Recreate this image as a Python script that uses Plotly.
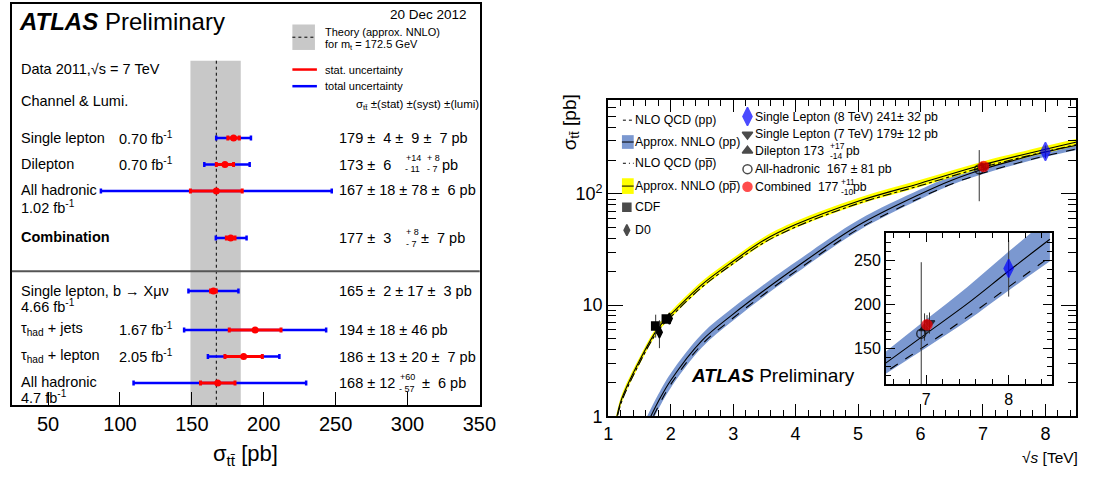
import math
import plotly.graph_objects as go

W, H = 1095, 486
FONT = "Liberation Sans, Arial, Helvetica, sans-serif"

# ---------------- Left panel data (pb) ----------------
CHANNELS = ["Single lepton", "Dilepton", "All hadronic", "<b>Combination</b>",
            "Single lepton, b \u2192 X\u03bc\u03bd", "\u03c4<sub>had</sub> + jets",
            "\u03c4<sub>had</sub> + lepton", "All hadronic"]
LUMI_LABELS = ["0.70 fb<sup>-1</sup>", "0.70 fb<sup>-1</sup>", "1.02 fb<sup>-1</sup>", "",
               "4.66 fb<sup>-1</sup>", "1.67 fb<sup>-1</sup>", "2.05 fb<sup>-1</sup>", "4.7 fb<sup>-1</sup>"]
XSEC = [179, 173, 167, 177, 165, 194, 186, 168]
STAT = [4, 6, 18, 3, 2, 18, 13, 12]
SYST_UP = [9, 14, 78, 8, 17, 46, 20, 60]
SYST_DN = [9, 11, 78, 7, 17, 46, 20, 57]
LUMI_UP = [7, 8, 6, 7, 3, 0, 7, 6]
LUMI_DN = [7, 7, 6, 7, 3, 0, 7, 6]
THEORY_7TEV = 167
THEORY_UP = 17
THEORY_DN = 18
LEFT_TICKS = [50, 100, 150, 200, 250, 300, 350]

# ---------------- Right panel data ----------------
SQRTS_PP = [1.6, 1.8, 2.0, 2.5, 3.0, 3.5, 4.0, 5.0, 6.0, 6.5, 7.0, 7.5, 8.0, 8.5]
NNLO_PP = [0.8, 1.35, 2.1, 4.8, 8.3, 13.6, 21.7, 52, 100, 133, 167, 201, 238, 274]
NNLO_PP_UP = [0.94, 1.57, 2.43, 5.5, 9.5, 15.4, 24.4, 58, 110, 146, 183, 220, 260, 299]
NNLO_PP_DN = [0.67, 1.15, 1.8, 4.15, 7.25, 12.0, 19.2, 46.5, 90, 121, 151, 182, 216, 249]
NLO_PP = [0.72, 1.22, 1.93, 4.42, 7.65, 12.6, 20.1, 48.2, 92.5, 123, 154, 186, 220, 254]

SQRTS_PPB = [1.1, 1.2, 1.5, 1.8, 2.0, 2.5, 3.0, 3.5, 4.0, 5.0, 6.0, 7.0, 8.0, 8.5]
NNLO_PPB = [0.75, 1.35, 3.15, 6.2, 8.2, 15.3, 24.8, 38.5, 53, 86, 125, 183, 252, 293]
NNLO_PPB_UP = [0.83, 1.47, 3.38, 6.63, 8.77, 16.4, 26.5, 41.2, 56.7, 92, 134, 196, 270, 314]
NNLO_PPB_DN = [0.68, 1.24, 2.9, 5.77, 7.63, 14.2, 23.1, 35.8, 49.3, 80, 116, 170, 234, 272]
NLO_PPB = [0.71, 1.28, 3.0, 5.9, 7.8, 14.5, 23.6, 36.6, 50.4, 82, 119, 174, 240, 278]

CDF_SQRTS = [1.76, 1.93]
CDF_XSEC = [6.5, 7.5]
CDF_UP = [1.7, 0.48]
CDF_DN = [1.4, 0.48]
D0_SQRTS = [1.82, 1.98]
D0_XSEC = [5.7, 7.56]
D0_UP = [1.6, 0.63]
D0_DN = [1.6, 0.56]

ATLAS_SQRTS = [6.94, 6.98, 7.04, 7.01, 8.0]   # all-had, dilep, SL7, comb, SL8
ATLAS_XSEC = [167, 173, 179, 177, 241]
ATLAS_UP = [81, 17, 12, 11, 32]
ATLAS_DN = [81, 14, 12, 10, 32]
ATLAS_SYMBOLS = ["circle-open", "triangle-up", "triangle-down", "circle", "diamond-tall"]
ATLAS_COLORS = ["black", "black", "black", "#ff0000", "#0000ff"]
ATLAS_SIZES = [9, 9, 9, 10, 13]

# ---------------- layout helpers (pixel positions) ----------------
ROW_Y = [141, 168, 195, 243, 297, 337, 364, 391]
LABEL_Y = [141, 167, 194, 242, 297, 336, 363, 390]
LUMI_POS = [(117, 141), (117, 167), (17, 211), None, (17, 312), (117, 336), (117, 363), (17, 405)]


def px(x):
    return x / W


def py(y):
    return 1 - y / H


annotations = []
shapes = []


def txt(x, y, s, size, anchor="left", color="black", **kw):
    dx = {"left": -3, "right": 3, "center": 0}[anchor]
    annotations.append(dict(x=px(x + dx), y=py(y), xref="paper", yref="paper", text=s,
                            showarrow=False, xanchor=anchor, yanchor="middle",
                            font=dict(size=size, family=FONT, color=color), **kw))


def rect(x0, y0, x1, y1, color):
    shapes.append(dict(type="rect", xref="paper", yref="paper", x0=px(x0), x1=px(x1),
                       y0=py(y0), y1=py(y1), fillcolor=color, line=dict(width=0)))


def hline(x0, x1, y, color, width, dash="solid"):
    shapes.append(dict(type="line", xref="paper", yref="paper", x0=px(x0), x1=px(x1),
                       y0=py(y), y1=py(y), line=dict(color=color, width=width, dash=dash)))


fig = go.Figure()

# ================= LEFT PANEL =================
tot_up = [math.sqrt(s * s + a * a + b * b) for s, a, b in zip(STAT, SYST_UP, LUMI_UP)]
tot_dn = [math.sqrt(s * s + a * a + b * b) for s, a, b in zip(STAT, SYST_DN, LUMI_DN)]

fig.add_trace(go.Scatter(x=XSEC, y=ROW_Y, mode="markers", xaxis="x", yaxis="y",
                         marker=dict(size=2, color="rgba(0,0,0,0)"),
                         error_x=dict(type="data", symmetric=False, array=tot_up, arrayminus=tot_dn,
                                      color="#0000ff", thickness=2.5, width=2.5)))
fig.add_trace(go.Scatter(x=XSEC, y=ROW_Y, mode="markers", xaxis="x", yaxis="y",
                         marker=dict(size=7, color="#ff0000"),
                         error_x=dict(type="data", array=STAT, color="#ff0000", thickness=3, width=2.5)))

# theory band
shapes.append(dict(type="rect", xref="x", yref="y", x0=THEORY_7TEV - THEORY_DN, x1=THEORY_7TEV + THEORY_UP,
                   y0=62, y1=414, fillcolor="#c8c8c8", line=dict(width=0), layer="below"))
shapes.append(dict(type="line", xref="x", yref="y", x0=THEORY_7TEV, x1=THEORY_7TEV, y0=62, y1=414,
                   line=dict(color="black", width=1, dash="dot"), layer="below"))
# separator
hline(7, 484, 277, "#555555", 2)

# texts
txt(15, 22, "<b><i>ATLAS</i></b> Preliminary", 24)
txt(470, 15, "20 Dec 2012", 13.5, anchor="right")
rect(293, 25, 316, 51, "#c8c8c8")
hline(293, 316, 38, "black", 1, "dot")
txt(327, 33, "Theory (approx. NNLO)", 11)
txt(327, 46, "for m<sub>t</sub> = 172.5 GeV", 11)
hline(293, 318, 71, "#ff0000", 2.5)
txt(327, 71, "stat. uncertainty", 11)
hline(293, 318, 88, "#0000ff", 2.5)
txt(327, 88, "total uncertainty", 11)
txt(482, 107, "\u03c3<sub>t\u0074\u0304</sub> \u00b1(stat) \u00b1(syst) \u00b1(lumi)", 11.5, anchor="right")
txt(17, 70, "Data 2011,\u221as = 7 TeV", 14.5)
txt(17, 103, "Channel &amp; Lumi.", 14.5)

for i, lab in enumerate(CHANNELS):
    txt(17, LABEL_Y[i], lab, 14.5)
    if LUMI_POS[i] is not None:
        txt(LUMI_POS[i][0], LUMI_POS[i][1], LUMI_LABELS[i], 14.5)


def pad(v):
    return ("\u00a0" if v < 10 else "") + str(v)


VX = 341
VS = 14.5
SM = 9
txt(VX, 141, f"{XSEC[0]} \u00b1 {pad(STAT[0])} \u00b1 {pad(SYST_UP[0])} \u00b1 {pad(LUMI_UP[0])} pb", VS)
txt(VX, 168, f"{XSEC[1]} \u00b1 {pad(STAT[1])}", VS)
txt(410, 161, f"+{SYST_UP[1]}", SM)
txt(409, 173, f"- {SYST_DN[1]}", SM)
txt(431, 161, f"+ {LUMI_UP[1]}", SM)
txt(431, 173, f"- {LUMI_DN[1]}", SM)
txt(447, 168, "pb", VS)
txt(VX, 194, f"{XSEC[2]} \u00b1 {pad(STAT[2])} \u00b1 {pad(SYST_UP[2])} \u00b1 {pad(LUMI_UP[2])} pb", VS)
txt(VX, 243, f"{XSEC[3]} \u00b1 {pad(STAT[3])}", VS)
txt(410, 237, f"+ {SYST_UP[3]}", SM)
txt(410, 249, f"- {SYST_DN[3]}", SM)
txt(425, 243, f"\u00b1 {pad(LUMI_UP[3])} pb", VS)
txt(VX, 297, f"{XSEC[4]} \u00b1 {pad(STAT[4])} \u00b1 {pad(SYST_UP[4])} \u00b1 {pad(LUMI_UP[4])} pb", VS)
txt(VX, 337, f"{XSEC[5]} \u00b1 {pad(STAT[5])} \u00b1 {pad(SYST_UP[5])} pb", VS)
txt(VX, 364, f"{XSEC[6]} \u00b1 {pad(STAT[6])} \u00b1 {pad(SYST_UP[6])} \u00b1 {pad(LUMI_UP[6])} pb", VS)
txt(VX, 391, f"{XSEC[7]} \u00b1 {pad(STAT[7])}", VS)
txt(404, 385, f"+{SYST_UP[7]}", SM)
txt(403, 397, f"- {SYST_DN[7]}", SM)
txt(426, 391, f"\u00b1 {pad(LUMI_UP[7])} pb", VS)

txt(245, 465, "\u03c3<sub>t\u0074\u0304</sub> [pb]", 22, anchor="center")


# ================= RIGHT PANEL (main) =================
def band(xs, lo, hi, color, xa, ya):
    fig.add_trace(go.Scatter(x=xs, y=lo, mode="lines", line=dict(width=0, shape="spline", color=color),
                             xaxis=xa, yaxis=ya, hoverinfo="skip"))
    fig.add_trace(go.Scatter(x=xs, y=hi, mode="lines", line=dict(width=0, shape="spline", color=color),
                             fill="tonexty", fillcolor=color, xaxis=xa, yaxis=ya, hoverinfo="skip"))


def curve(xs, ys, dash, xa, ya):
    fig.add_trace(go.Scatter(x=xs, y=ys, mode="lines",
                             line=dict(width=1.1, color="black", shape="spline", dash=dash),
                             xaxis=xa, yaxis=ya, hoverinfo="skip"))


BLUE_BAND = "#7b98d0"
YELLOW = "#ffff00"

band(SQRTS_PP, NNLO_PP_DN, NNLO_PP_UP, BLUE_BAND, "x2", "y2")
band(SQRTS_PPB, NNLO_PPB_DN, NNLO_PPB_UP, YELLOW, "x2", "y2")
curve(SQRTS_PP, NLO_PP, "dash", "x2", "y2")
curve(SQRTS_PP, NNLO_PP, "solid", "x2", "y2")
curve(SQRTS_PPB, NLO_PPB, "dashdot", "x2", "y2")
curve(SQRTS_PPB, NNLO_PPB, "solid", "x2", "y2")


def points(xs, ys, up, dn, symbols, colors, sizes, xa, ya):
    fig.add_trace(go.Scatter(x=xs, y=ys, mode="markers", xaxis=xa, yaxis=ya,
                             marker=dict(symbol=symbols, color=colors, size=sizes,
                                         line=dict(width=1.5, color=colors)),
                             error_y=dict(type="data", symmetric=False, array=up, arrayminus=dn,
                                          color="#333333", thickness=1, width=0)))


points(CDF_SQRTS, CDF_XSEC, CDF_UP, CDF_DN, "square", "black", 8, "x2", "y2")
points(D0_SQRTS, D0_XSEC, D0_UP, D0_DN, "diamond-tall", "black", 8, "x2", "y2")
points(ATLAS_SQRTS, ATLAS_XSEC, ATLAS_UP, ATLAS_DN, ATLAS_SYMBOLS, ATLAS_COLORS, ATLAS_SIZES, "x2", "y2")

# ================= INSET =================
band(SQRTS_PP, NNLO_PP_DN, NNLO_PP_UP, BLUE_BAND, "x3", "y3")
curve(SQRTS_PP, NLO_PP, "dash", "x3", "y3")
curve(SQRTS_PP, NNLO_PP, "solid", "x3", "y3")
points(ATLAS_SQRTS, ATLAS_XSEC, ATLAS_UP, ATLAS_DN, ATLAS_SYMBOLS, ATLAS_COLORS, ATLAS_SIZES, "x3", "y3")

# ================= right-panel legend =================
hline(630, 641, 122.7, "black", 1, "3px,3px")
rect(629, 138, 641, 152, BLUE_BAND)
hline(629, 641, 145, "black", 1)
hline(630, 641, 166.7, "black", 1, "3px,3px,1px,3px")
rect(629, 182, 641, 198, YELLOW)
hline(629, 641, 190, "black", 1)

LX = 643
LS = 12.3
txt(LX, 122.7, "NLO QCD (pp)", LS)
txt(LX, 145, "Approx. NNLO (pp)", LS)
txt(LX, 166.7, "NLO QCD (pp\u0305)", LS)
txt(LX, 190, "Approx. NNLO (pp\u0305)", LS)
txt(LX, 211.7, "CDF", LS)
txt(LX, 235, "D0", LS)

RX = 766
txt(RX, 119, f"Single Lepton (8 TeV) {ATLAS_XSEC[4]}\u00b1 {ATLAS_UP[4]} pb", LS)
txt(RX, 137.3, f"Single Lepton (7 TeV) {ATLAS_XSEC[2]}\u00b1 {ATLAS_UP[2]} pb", LS)
txt(RX, 154.5, f"Dilepton {ATLAS_XSEC[1]}", LS)
txt(842, 149.5, f"+{ATLAS_UP[1]}", 8.5)
txt(842, 159.5, f"-{ATLAS_DN[1]}", 8.5)
txt(858, 154.5, "pb", LS)
txt(RX, 172.7, f"All-hadronic \u00a0{ATLAS_XSEC[0]} \u00b1 {ATLAS_UP[0]} pb", LS)
txt(RX, 190.7, f"Combined \u00a0{ATLAS_XSEC[3]}", LS)
txt(853, 186, f"+{ATLAS_UP[3]}", 8.5)
txt(853, 196, f"-{ATLAS_DN[3]}", 8.5)
txt(866, 190.7, "pb", LS)

LEG_X = [634, 634, 757, 757, 757, 757, 757]
LEG_Y = [211.7, 235, 119, 137.3, 154, 172.7, 190.7]
fig.add_trace(go.Scatter(x=LEG_X, y=LEG_Y, mode="markers", xaxis="x4", yaxis="y4", hoverinfo="skip",
                         marker=dict(symbol=["square", "diamond-tall", "diamond-tall", "triangle-down",
                                             "triangle-up", "circle-open", "circle"],
                                     color=["black", "black", "#0000ff", "black", "black", "black", "#ff0000"],
                                     size=[8, 8, 13, 9, 9, 9, 9],
                                     line=dict(width=1.5, color=["black", "black", "#0000ff", "black", "black",
                                                                 "black", "#ff0000"]))))

txt(700, 383, "<b><i>ATLAS</i></b> Preliminary", 19)
txt(577, 125, "\u03c3<sub>t\u0074\u0304</sub> [pb]", 19, anchor="center", textangle=-90)
txt(1093, 467, "\u221a<i>s</i> [TeV]", 15.5, anchor="right")

# ================= axes =================
AX_COMMON = dict(showgrid=False, zeroline=False, showline=True, linecolor="black",
                 tickcolor="black")


def tf(size):
    return dict(family=FONT, size=size, color="black")


fig.update_layout(
    width=W, height=H, margin=dict(l=0, r=0, t=0, b=0),
    paper_bgcolor="white", plot_bgcolor="rgba(0,0,0,0)", showlegend=False,
    font=dict(family=FONT, color="black"),
    xaxis=dict(**AX_COMMON, domain=[px(7), px(484)], range=[24.8, 350.2], anchor="y",
               tickmode="array", tickvals=LEFT_TICKS, ticks="inside", ticklen=13, tickwidth=1.3,
               mirror=True, linewidth=2, tickfont=tf(20)),
    yaxis=dict(showgrid=False, zeroline=False, showline=True, linecolor="black", linewidth=2,
               mirror=True, domain=[py(414), py(4)], range=[414, 4], anchor="x",
               showticklabels=False, ticks=""),
    xaxis2=dict(**AX_COMMON, domain=[px(615), px(1092)], range=[1, 8.49], anchor="y2",
                tick0=1, dtick=1, ticks="inside", ticklen=12, tickwidth=1.3, mirror="ticks", linewidth=2,
                tickfont=tf(18),
                minor=dict(ticks="inside", ticklen=6, dtick=0.2, tickwidth=1.3, tickcolor="black")),
    yaxis2=dict(**AX_COMMON, domain=[py(425), py(102)], type="log", range=[0, 2.846], anchor="x2",
                tickmode="array", tickvals=[1, 10, 100], ticktext=["1", "10", "10<sup>2</sup>"],
                ticks="inside", ticklen=15, tickwidth=1.3, mirror="ticks", linewidth=2, tickfont=tf(18),
                minor=dict(ticks="inside", ticklen=8, dtick="D1", tickwidth=1.3, tickcolor="black")),
    xaxis3=dict(**AX_COMMON, domain=[px(898), px(1067)], range=[6.51, 8.52], anchor="y3",
                tick0=7, dtick=1, ticks="inside", ticklen=9, tickwidth=1.2, mirror="ticks", linewidth=1.5,
                tickfont=tf(16),
                minor=dict(ticks="inside", ticklen=5, dtick=0.2, tickwidth=1.2, tickcolor="black")),
    yaxis3=dict(**AX_COMMON, domain=[py(392), py(238)], range=[110, 281], anchor="x3",
                tickmode="array", tickvals=[150, 200, 250], ticks="inside", ticklen=9, tickwidth=1.2,
                mirror="ticks", linewidth=1.5, tickfont=tf(16),
                minor=dict(ticks="inside", ticklen=5, dtick=10, tickwidth=1.2, tickcolor="black")),
    xaxis4=dict(domain=[0, 1], range=[0, W], visible=False, anchor="y4"),
    yaxis4=dict(domain=[0, 1], range=[H, 0], visible=False, anchor="x4"),
    annotations=annotations, shapes=shapes,
)

fig.write_html("out.html")
